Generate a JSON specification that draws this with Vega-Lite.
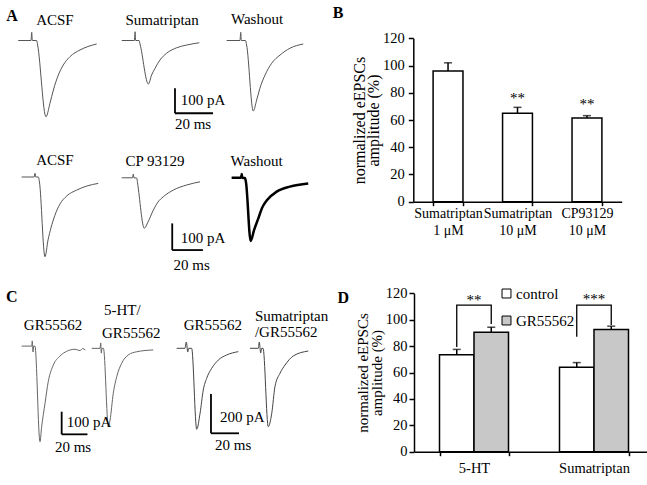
{
  "$schema": "https://vega.github.io/schema/vega-lite/v6.json",
  "width": 647,
  "height": 485,
  "autosize": {"type": "none"},
  "padding": 0,
  "config": {
    "view": {"stroke": null},
    "font": "Liberation Serif",
    "text": {"font": "Liberation Serif", "fontSize": 15, "color": "black", "baseline": "middle"},
    "axis": {"labelFont": "Liberation Serif", "titleFont": "Liberation Serif", "labelColor": "black", "titleColor": "black", "domainColor": "black", "tickColor": "black", "grid": false, "labelFontSize": 14.5, "titleFontWeight": "normal", "domainWidth": 1.5, "tickWidth": 1.5, "tickSize": 5, "labelFlush": false, "labelOverlap": false}
  },
  "datasets": {
    "tracesA1": [
      {"trace": "ACSF", "t": 9.6, "I": 0}, {"trace": "ACSF", "t": 16.3, "I": 0}, {"trace": "ACSF", "t": 16.7, "I": 33}, {"trace": "ACSF", "t": 17.0, "I": 0}, {"trace": "ACSF", "t": 19.3, "I": 0}, {"trace": "ACSF", "t": 19.8, "I": -18}, {"trace": "ACSF", "t": 24.2, "I": -305}, {"trace": "ACSF", "t": 26.3, "I": -251}, {"trace": "ACSF", "t": 28.1, "I": -198}, {"trace": "ACSF", "t": 30.7, "I": -138}, {"trace": "ACSF", "t": 33.3, "I": -98}, {"trace": "ACSF", "t": 36.8, "I": -65}, {"trace": "ACSF", "t": 42.1, "I": -38}, {"trace": "ACSF", "t": 46.3, "I": -24}, {"trace": "ACSF", "t": 50.9, "I": -14},
      {"trace": "Sumatriptan", "t": 64.1, "I": 0}, {"trace": "Sumatriptan", "t": 70.7, "I": 0}, {"trace": "Sumatriptan", "t": 71.1, "I": 35}, {"trace": "Sumatriptan", "t": 71.4, "I": 0}, {"trace": "Sumatriptan", "t": 73.2, "I": 0}, {"trace": "Sumatriptan", "t": 73.7, "I": -14}, {"trace": "Sumatriptan", "t": 78.1, "I": -174}, {"trace": "Sumatriptan", "t": 79.8, "I": -138}, {"trace": "Sumatriptan", "t": 81.6, "I": -111}, {"trace": "Sumatriptan", "t": 84.2, "I": -78}, {"trace": "Sumatriptan", "t": 87.7, "I": -51}, {"trace": "Sumatriptan", "t": 93.0, "I": -29}, {"trace": "Sumatriptan", "t": 98.3, "I": -18}, {"trace": "Sumatriptan", "t": 104.9, "I": -9},
      {"trace": "Washout", "t": 119.3, "I": 0}, {"trace": "Washout", "t": 126.3, "I": 0}, {"trace": "Washout", "t": 126.7, "I": 33}, {"trace": "Washout", "t": 127.0, "I": 0}, {"trace": "Washout", "t": 129.2, "I": 0}, {"trace": "Washout", "t": 129.8, "I": -18}, {"trace": "Washout", "t": 133.3, "I": -282}, {"trace": "Washout", "t": 135.1, "I": -238}, {"trace": "Washout", "t": 136.8, "I": -191}, {"trace": "Washout", "t": 139.5, "I": -138}, {"trace": "Washout", "t": 143.0, "I": -91}, {"trace": "Washout", "t": 147.4, "I": -58}, {"trace": "Washout", "t": 152.6, "I": -31}, {"trace": "Washout", "t": 159.6, "I": -14}
    ],
    "tracesA2": [
      {"trace": "ACSF", "t": 14.1, "I": 0}, {"trace": "ACSF", "t": 22.3, "I": 0}, {"trace": "ACSF", "t": 22.8, "I": 14}, {"trace": "ACSF", "t": 23.3, "I": 0}, {"trace": "ACSF", "t": 25.0, "I": 0}, {"trace": "ACSF", "t": 25.7, "I": -19}, {"trace": "ACSF", "t": 29.3, "I": -299}, {"trace": "ACSF", "t": 31.3, "I": -236}, {"trace": "ACSF", "t": 33.2, "I": -191}, {"trace": "ACSF", "t": 35.8, "I": -143}, {"trace": "ACSF", "t": 39.1, "I": -101}, {"trace": "ACSF", "t": 43.5, "I": -71}, {"trace": "ACSF", "t": 50.0, "I": -49}, {"trace": "ACSF", "t": 56.5, "I": -34}, {"trace": "ACSF", "t": 64.0, "I": -24},
      {"trace": "CP 93129", "t": 79.3, "I": -3}, {"trace": "CP 93129", "t": 86.4, "I": -3}, {"trace": "CP 93129", "t": 86.8, "I": 11}, {"trace": "CP 93129", "t": 87.3, "I": -3}, {"trace": "CP 93129", "t": 89.1, "I": -4}, {"trace": "CP 93129", "t": 89.6, "I": -22}, {"trace": "CP 93129", "t": 94.0, "I": -192}, {"trace": "CP 93129", "t": 96.4, "I": -169}, {"trace": "CP 93129", "t": 99.9, "I": -124}, {"trace": "CP 93129", "t": 102.9, "I": -94}, {"trace": "CP 93129", "t": 106.4, "I": -74}, {"trace": "CP 93129", "t": 112.9, "I": -49}, {"trace": "CP 93129", "t": 121.6, "I": -30}, {"trace": "CP 93129", "t": 130.3, "I": -18},
      {"trace": "Washout", "t": 150.9, "I": -3}, {"trace": "Washout", "t": 157.0, "I": -3}, {"trace": "Washout", "t": 157.5, "I": 11}, {"trace": "Washout", "t": 157.8, "I": -3}, {"trace": "Washout", "t": 159.6, "I": -4}, {"trace": "Washout", "t": 160.3, "I": -22}, {"trace": "Washout", "t": 163.3, "I": -240}, {"trace": "Washout", "t": 165.5, "I": -199}, {"trace": "Washout", "t": 168.3, "I": -155}, {"trace": "Washout", "t": 170.7, "I": -116}, {"trace": "Washout", "t": 173.7, "I": -88}, {"trace": "Washout", "t": 180.3, "I": -55}, {"trace": "Washout", "t": 188.9, "I": -36}, {"trace": "Washout", "t": 200.8, "I": -24}
    ],
    "tracesC1": [
      {"trace": "GR55562", "t": 16.8, "I": 4}, {"trace": "GR55562", "t": 24.6, "I": 4}, {"trace": "GR55562", "t": 25.0, "I": 27}, {"trace": "GR55562", "t": 25.6, "I": -22}, {"trace": "GR55562", "t": 26.1, "I": 4}, {"trace": "GR55562", "t": 27.1, "I": 4}, {"trace": "GR55562", "t": 31.0, "I": -419}, {"trace": "GR55562", "t": 32.3, "I": -352}, {"trace": "GR55562", "t": 34.9, "I": -249}, {"trace": "GR55562", "t": 37.4, "I": -153}, {"trace": "GR55562", "t": 41.3, "I": -80}, {"trace": "GR55562", "t": 46.5, "I": -40}, {"trace": "GR55562", "t": 51.7, "I": -19}, {"trace": "GR55562", "t": 58.1, "I": -10}, {"trace": "GR55562", "t": 62.0, "I": -16}, {"trace": "GR55562", "t": 64.1, "I": -7}, {"trace": "GR55562", "t": 66.1, "I": -13},
      {"trace": "5-HT/GR55562", "t": 71.1, "I": -6}, {"trace": "5-HT/GR55562", "t": 77.5, "I": -6}, {"trace": "5-HT/GR55562", "t": 78.1, "I": 18}, {"trace": "5-HT/GR55562", "t": 78.5, "I": -27}, {"trace": "5-HT/GR55562", "t": 79.1, "I": -6}, {"trace": "5-HT/GR55562", "t": 80.2, "I": -6}, {"trace": "5-HT/GR55562", "t": 84.0, "I": -352}, {"trace": "5-HT/GR55562", "t": 85.3, "I": -323}, {"trace": "5-HT/GR55562", "t": 87.8, "I": -205}, {"trace": "5-HT/GR55562", "t": 90.5, "I": -131}, {"trace": "5-HT/GR55562", "t": 94.3, "I": -72}, {"trace": "5-HT/GR55562", "t": 99.5, "I": -35}, {"trace": "5-HT/GR55562", "t": 106.0, "I": -21}, {"trace": "5-HT/GR55562", "t": 118.8, "I": -13}
    ],
    "tracesC2": [
      {"trace": "GR55562", "t": 126.2, "I": 0}, {"trace": "GR55562", "t": 132.1, "I": 0}, {"trace": "GR55562", "t": 133.1, "I": 32}, {"trace": "GR55562", "t": 134.1, "I": -19}, {"trace": "GR55562", "t": 134.8, "I": 0}, {"trace": "GR55562", "t": 136.9, "I": 0}, {"trace": "GR55562", "t": 140.5, "I": -412}, {"trace": "GR55562", "t": 142.9, "I": -331}, {"trace": "GR55562", "t": 145.2, "I": -212}, {"trace": "GR55562", "t": 147.6, "I": -153}, {"trace": "GR55562", "t": 151.2, "I": -102}, {"trace": "GR55562", "t": 155.9, "I": -60}, {"trace": "GR55562", "t": 161.9, "I": -34}, {"trace": "GR55562", "t": 170.2, "I": -17},
      {"trace": "Sumatriptan/GR55562", "t": 178.6, "I": 0}, {"trace": "Sumatriptan/GR55562", "t": 184.5, "I": 0}, {"trace": "Sumatriptan/GR55562", "t": 185.2, "I": 32}, {"trace": "Sumatriptan/GR55562", "t": 186.2, "I": -24}, {"trace": "Sumatriptan/GR55562", "t": 186.9, "I": 0}, {"trace": "Sumatriptan/GR55562", "t": 187.9, "I": 0}, {"trace": "Sumatriptan/GR55562", "t": 191.6, "I": -399}, {"trace": "Sumatriptan/GR55562", "t": 194.1, "I": -331}, {"trace": "Sumatriptan/GR55562", "t": 196.4, "I": -195}, {"trace": "Sumatriptan/GR55562", "t": 200.0, "I": -127}, {"trace": "Sumatriptan/GR55562", "t": 203.6, "I": -85}, {"trace": "Sumatriptan/GR55562", "t": 209.5, "I": -39}, {"trace": "Sumatriptan/GR55562", "t": 220.2, "I": -14}
    ],
    "panelB": [
      {"drug": "Sumatriptan|1 μM", "mean": 96, "hi": 102, "sig": "", "sigPos": 0},
      {"drug": "Sumatriptan|10 μM", "mean": 65, "hi": 69.3, "sig": "**", "sigPos": 76.1},
      {"drug": "CP93129|10 μM", "mean": 61.5, "hi": 63.2, "sig": "**", "sigPos": 72}
    ],
    "panelD": [
      {"cond": "5-HT", "grp": "control", "mean": 73.5, "hi": 77.5},
      {"cond": "5-HT", "grp": "GR55562", "mean": 90.5, "hi": 94.3},
      {"cond": "Sumatriptan", "grp": "control", "mean": 64, "hi": 67.5},
      {"cond": "Sumatriptan", "grp": "GR55562", "mean": 92.5, "hi": 95.1}
    ],
    "bracketsD": [
      {"cond": "5-HT", "grp": "control", "y": 79.4, "seq": 1},
      {"cond": "5-HT", "grp": "control", "y": 111, "seq": 2},
      {"cond": "5-HT", "grp": "GR55562", "y": 111, "seq": 3},
      {"cond": "5-HT", "grp": "GR55562", "y": 96.7, "seq": 4},
      {"cond": "Sumatriptan", "grp": "control", "y": 87, "seq": 1},
      {"cond": "Sumatriptan", "grp": "control", "y": 111, "seq": 2},
      {"cond": "Sumatriptan", "grp": "GR55562", "y": 111, "seq": 3},
      {"cond": "Sumatriptan", "grp": "GR55562", "y": 96, "seq": 4}
    ],
    "starsD": [
      {"cond": "5-HT", "pos": 114.6, "sig": "**"},
      {"cond": "Sumatriptan", "pos": 115.9, "sig": "***"}
    ]
  },
  "layer": [
    {
      "encoding": {
        "x": {"field": "t", "type": "quantitative", "scale": {"domain": [0, 340.53], "nice": false, "zero": false}, "axis": null},
        "y": {"field": "I", "type": "quantitative", "scale": {"domain": [-1778, 162], "nice": false, "zero": false}, "axis": null}
      },
      "layer": [
        {"data": {"name": "tracesA1"}, "mark": {"type": "line", "color": "#555555", "strokeWidth": 1, "interpolate": "monotone"}, "encoding": {"detail": {"field": "trace"}}},
        {"data": {"values": [{"t": 92.1, "I": -191, "t2": 92.1, "I2": -291}, {"t": 92.1, "I": -291, "t2": 112.1, "I2": -291}]}, "mark": {"type": "rule", "color": "black", "strokeWidth": 1.8}, "encoding": {"x2": {"field": "t2"}, "y2": {"field": "I2"}}},
        {"data": {"values": [{"t": 28.9, "I": 82, "label": "ACSF"}, {"t": 85.3, "I": 82, "label": "Sumatriptan"}, {"t": 135.3, "I": 86, "label": "Washout"}, {"t": 101.6, "I": -334, "label": "20 ms"}]}, "mark": {"type": "text", "align": "center"}, "encoding": {"text": {"field": "label"}}},
        {"data": {"values": [{"t": 95.1, "I": -238, "label": "100 pA"}]}, "mark": {"type": "text", "align": "left"}, "encoding": {"text": {"field": "label"}}},
        {"data": {"values": [{"t": 6.3, "I": 99, "label": "A"}, {"t": 177.9, "I": 111, "label": "B"}]}, "mark": {"type": "text", "align": "center", "fontWeight": "bold", "fontSize": 16}, "encoding": {"text": {"field": "label"}}}
      ]
    },
    {
      "encoding": {
        "x": {"field": "t", "type": "quantitative", "scale": {"domain": [0, 421.5], "nice": false, "zero": false}, "axis": null},
        "y": {"field": "I", "type": "quantitative", "scale": {"domain": [-1155, 663.75], "nice": false, "zero": false}, "axis": null}
      },
      "layer": [
        {"data": {"name": "tracesA2"}, "transform": [{"filter": "datum.trace != 'Washout'"}], "mark": {"type": "line", "color": "#555555", "strokeWidth": 1, "interpolate": "monotone"}, "encoding": {"detail": {"field": "trace"}}},
        {"data": {"name": "tracesA2"}, "transform": [{"filter": "datum.trace == 'Washout'"}], "mark": {"type": "line", "color": "black", "strokeWidth": 2.5, "interpolate": "monotone"}, "encoding": {"detail": {"field": "trace"}}},
        {"data": {"values": [{"t": 112.2, "I": -174, "t2": 112.2, "I2": -274}, {"t": 112.2, "I": -274, "t2": 132.2, "I2": -274}]}, "mark": {"type": "rule", "color": "black", "strokeWidth": 1.8}, "encoding": {"x2": {"field": "t2"}, "y2": {"field": "I2"}}},
        {"data": {"values": [{"t": 35.8, "I": 64, "label": "ACSF"}, {"t": 101, "I": 60, "label": "CP 93129"}, {"t": 167.2, "I": 60, "label": "Washout"}, {"t": 124.9, "I": -330, "label": "20 ms"}]}, "mark": {"type": "text", "align": "center"}, "encoding": {"text": {"field": "label"}}},
        {"data": {"values": [{"t": 117.7, "I": -229, "label": "100 pA"}]}, "mark": {"type": "text", "align": "left"}, "encoding": {"text": {"field": "label"}}}
      ]
    },
    {
      "encoding": {
        "x": {"field": "t", "type": "quantitative", "scale": {"domain": [0, 501.55], "nice": false, "zero": false}, "axis": null},
        "y": {"field": "I", "type": "quantitative", "scale": {"domain": [-609.96, 1533.74], "nice": false, "zero": false}, "axis": null}
      },
      "layer": [
        {"data": {"name": "tracesC1"}, "mark": {"type": "line", "color": "#666666", "strokeWidth": 1, "interpolate": "monotone"}, "encoding": {"detail": {"field": "trace"}}},
        {"data": {"values": [{"t": 47.8, "I": -286, "t2": 47.8, "I2": -386}, {"t": 47.8, "I": -386, "t2": 67.8, "I2": -386}]}, "mark": {"type": "rule", "color": "black", "strokeWidth": 1.8}, "encoding": {"x2": {"field": "t2"}, "y2": {"field": "I2"}}},
        {"data": {"values": [{"t": 41.1, "I": 97, "label": "GR55562"}, {"t": 56.6, "I": -441, "label": "20 ms"}]}, "mark": {"type": "text", "align": "center"}, "encoding": {"text": {"field": "label"}}},
        {"data": {"values": [{"t": 51.7, "I": -331.5, "label": "100 pA"}, {"t": 80.6, "I": 163.5, "label": "5-HT/"}, {"t": 79.1, "I": 62, "label": "GR55562"}]}, "mark": {"type": "text", "align": "left"}, "encoding": {"text": {"field": "label"}}},
        {"data": {"values": [{"t": 9.1, "I": 220, "label": "C"}, {"t": 266.1, "I": 215, "label": "D"}]}, "mark": {"type": "text", "align": "center", "fontWeight": "bold", "fontSize": 16}, "encoding": {"text": {"field": "label"}}}
      ]
    },
    {
      "encoding": {
        "x": {"field": "t", "type": "quantitative", "scale": {"domain": [0, 462.14], "nice": false, "zero": false}, "axis": null},
        "y": {"field": "I", "type": "quantitative", "scale": {"domain": [-695.8, 1772.85], "nice": false, "zero": false}, "axis": null}
      },
      "layer": [
        {"data": {"name": "tracesC2"}, "mark": {"type": "line", "color": "#444444", "strokeWidth": 1, "interpolate": "monotone"}, "encoding": {"detail": {"field": "trace"}}},
        {"data": {"values": [{"t": 150.7, "I": -232.6, "t2": 150.7, "I2": -432.6}, {"t": 150.7, "I": -432.6, "t2": 170.7, "I2": -432.6}]}, "mark": {"type": "rule", "color": "black", "strokeWidth": 1.8}, "encoding": {"x2": {"field": "t2"}, "y2": {"field": "I2"}}},
        {"data": {"values": [{"t": 152.1, "I": 118.6, "label": "GR55562"}, {"t": 166.6, "I": -492, "label": "20 ms"}]}, "mark": {"type": "text", "align": "center"}, "encoding": {"text": {"field": "label"}}},
        {"data": {"values": [{"t": 157.1, "I": -348, "label": "200 pA"}, {"t": 182.1, "I": 164.4, "label": "Sumatriptan"}, {"t": 182.1, "I": 84.5, "label": "/GR55562"}]}, "mark": {"type": "text", "align": "left"}, "encoding": {"text": {"field": "label"}}}
      ]
    },
    {
      "data": {"name": "panelB"},
      "encoding": {
        "x": {"field": "drug", "type": "nominal", "sort": null,
              "scale": {"range": [413.3, 621.7], "paddingInner": 0.57, "paddingOuter": 0.285},
              "axis": {"orient": "bottom", "offset": -283.3, "title": null, "labelAngle": 0, "labelExpr": "split(datum.label, '|')", "labelFontSize": 14, "labelLineHeight": 17, "labelPadding": 1, "tickBand": "extent", "tickSize": 4}}
      },
      "layer": [
        {"mark": {"type": "bar", "fill": "white", "stroke": "black", "strokeWidth": 1.5},
         "encoding": {"y": {"field": "mean", "type": "quantitative",
                            "scale": {"domain": [0, 120], "range": [201.7, 38.3], "nice": false, "zero": false},
                            "axis": {"orient": "left", "offset": -413.3, "values": [0, 20, 40, 60, 80, 100, 120], "title": ["normalized eEPSCs", "amplitude (%)"], "titleFontSize": 16, "titleLineHeight": 14, "titlePadding": 1, "labelPadding": 4}}}},
        {"mark": {"type": "rule", "color": "black", "strokeWidth": 1.5},
         "encoding": {"y": {"field": "mean", "type": "quantitative"}, "y2": {"field": "hi"}}},
        {"mark": {"type": "tick", "color": "black", "size": 8, "thickness": 1.5},
         "encoding": {"y": {"field": "hi", "type": "quantitative"}}},
        {"mark": {"type": "text", "align": "center", "fontSize": 15},
         "encoding": {"y": {"field": "sigPos", "type": "quantitative"}, "text": {"field": "sig"}}}
      ]
    },
    {
      "data": {"name": "panelD"},
      "encoding": {
        "x": {"field": "cond", "type": "nominal", "sort": null,
              "scale": {"range": [414, 654], "paddingInner": 0.425, "paddingOuter": 0.2125},
              "axis": {"orient": "bottom", "offset": -33.3, "title": null, "labelAngle": 0, "labelPadding": 6, "tickBand": "extent", "tickSize": 4}}
      },
      "layer": [
        {"mark": {"type": "bar", "stroke": "black", "strokeWidth": 1.5},
         "encoding": {
           "xOffset": {"field": "grp", "type": "nominal", "sort": null, "scale": {"domain": ["control", "GR55562"], "paddingInner": 0, "paddingOuter": 0}},
           "y": {"field": "mean", "type": "quantitative",
                 "scale": {"domain": [0, 120], "range": [451.7, 293.3], "nice": false, "zero": false},
                 "axis": {"orient": "left", "offset": -414, "values": [0, 20, 40, 60, 80, 100, 120], "title": ["normalized eEPSCs", "amplitude (%)"], "titleFontSize": 15, "titleLineHeight": 14, "titlePadding": 1, "labelPadding": 2}},
           "fill": {"field": "grp", "type": "nominal", "sort": null,
                    "scale": {"domain": ["control", "GR55562"], "range": ["white", "#c8c8c8"]},
                    "legend": {"title": null, "orient": "none", "legendX": 499, "legendY": 286, "symbolType": "square", "symbolSize": 80, "symbolStrokeColor": "black", "symbolStrokeWidth": 1, "labelFont": "Liberation Serif", "labelFontSize": 15, "labelColor": "black", "rowPadding": 11, "labelOffset": 2, "padding": 0}}
         }},
        {"mark": {"type": "rule", "color": "black", "strokeWidth": 1.5},
         "encoding": {"xOffset": {"field": "grp", "type": "nominal", "sort": null}, "y": {"field": "mean", "type": "quantitative"}, "y2": {"field": "hi"}}},
        {"mark": {"type": "tick", "color": "black", "size": 8, "thickness": 1.5},
         "encoding": {"xOffset": {"field": "grp", "type": "nominal", "sort": null}, "y": {"field": "hi", "type": "quantitative"}}},
        {"data": {"name": "bracketsD"}, "mark": {"type": "line", "color": "black", "strokeWidth": 1.3},
         "encoding": {"xOffset": {"field": "grp", "type": "nominal", "sort": null}, "y": {"field": "y", "type": "quantitative"}, "detail": {"field": "cond"}, "order": {"field": "seq"}}},
        {"data": {"name": "starsD"}, "mark": {"type": "text", "align": "center", "fontSize": 15},
         "encoding": {"y": {"field": "pos", "type": "quantitative"}, "text": {"field": "sig"}}}
      ]
    }
  ],
  "resolve": {"scale": {"x": "independent", "y": "independent"}, "axis": {"x": "independent", "y": "independent"}}
}
